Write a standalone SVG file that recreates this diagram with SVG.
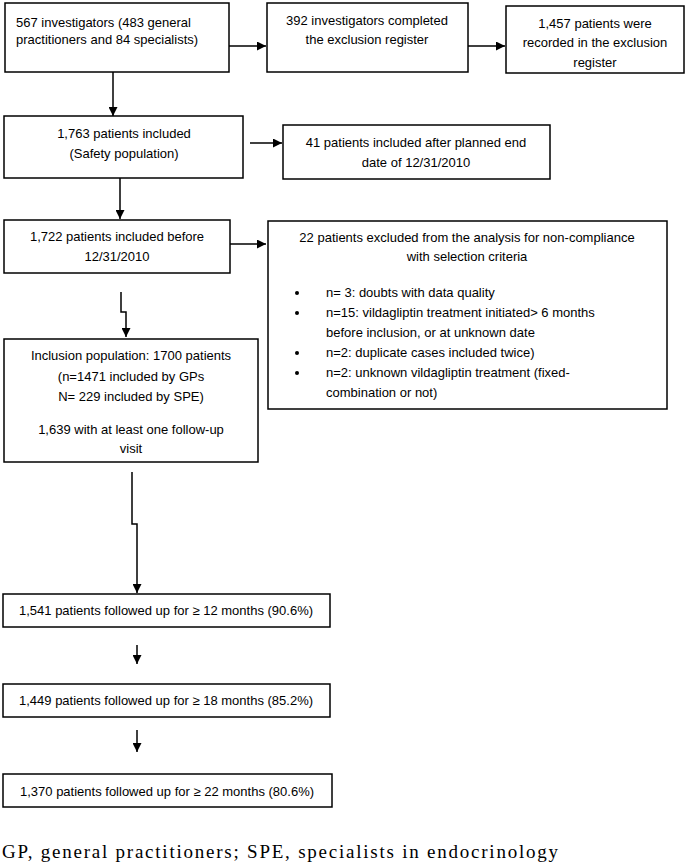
<svg xmlns="http://www.w3.org/2000/svg" width="685" height="868" viewBox="0 0 685 868">
<defs>
<marker id="ah" viewBox="0 0 10 10" refX="10" refY="5" markerWidth="9" markerHeight="9" markerUnits="userSpaceOnUse" orient="auto">
<path d="M0,0 L10,5 L0,10 Z" fill="#000"/>
</marker>
<style>
.box{fill:#fff;stroke:#000;stroke-width:1.5}
.t{font-family:"Liberation Sans",Arial,sans-serif;font-size:13px;fill:#000}
.c{text-anchor:middle}
.ln{fill:none;stroke:#000;stroke-width:1.5;marker-end:url(#ah)}
.cap{font-family:"Liberation Serif","Times New Roman",serif;font-size:19px;fill:#000}
</style>
</defs>
<rect width="685" height="868" fill="#fff"/>
<g id="connectors">
<path class="ln" d="M229,46 H266"/>
<path class="ln" d="M468,46 H505"/>
<path class="ln" d="M113,72 V116"/>
<path class="ln" d="M250,143 H282"/>
<path class="ln" d="M120,178 V219"/>
<path class="ln" d="M230,244 H266"/>
<path class="ln" d="M121,292 V312 H126 V337"/>
<path class="ln" d="M132,472 V524 H137 V593"/>
<path class="ln" d="M137,645 V664"/>
<path class="ln" d="M137,730 V752"/>
</g>
<g id="n1">
<rect class="box" x="5" y="3" width="224" height="69"/>
<text class="t" x="16" y="27">567 investigators (483 general</text>
<text class="t" x="16" y="44">practitioners and 84 specialists)</text>
</g>
<g id="n2">
<rect class="box" x="267" y="3" width="201" height="69"/>
<text class="t c" x="367" y="25">392 investigators completed</text>
<text class="t c" x="367" y="44">the exclusion register</text>
</g>
<g id="n3">
<rect class="box" x="506" y="6" width="178" height="67"/>
<text class="t c" x="595" y="28">1,457 patients were</text>
<text class="t c" x="595" y="47">recorded in the exclusion</text>
<text class="t c" x="595" y="67">register</text>
</g>
<g id="n4">
<rect class="box" x="4" y="116" width="239" height="62"/>
<text class="t c" x="124" y="138">1,763 patients included</text>
<text class="t c" x="124" y="158">(Safety population)</text>
</g>
<g id="n5">
<rect class="box" x="283" y="125" width="267" height="54"/>
<text class="t c" x="416" y="147">41 patients included after planned end</text>
<text class="t c" x="416" y="167">date of 12/31/2010</text>
</g>
<g id="n6">
<rect class="box" x="4" y="220" width="226" height="53"/>
<text class="t c" x="117" y="241">1,722 patients included before</text>
<text class="t c" x="117" y="261">12/31/2010</text>
</g>
<g id="n7">
<rect class="box" x="268" y="221" width="399" height="188"/>
<text class="t c" x="467" y="242">22 patients excluded from the analysis for non-compliance</text>
<text class="t c" x="467" y="261">with selection criteria</text>
<g fill="#000">
<circle cx="297" cy="293" r="2"/>
<circle cx="297" cy="313" r="2"/>
<circle cx="297" cy="353" r="2"/>
<circle cx="297" cy="373" r="2"/>
</g>
<text class="t" x="326" y="297">n= 3: doubts with data quality</text>
<text class="t" x="326" y="317">n=15: vildagliptin treatment initiated&gt; 6 months</text>
<text class="t" x="326" y="337">before inclusion, or at unknown date</text>
<text class="t" x="326" y="357">n=2: duplicate cases included twice)</text>
<text class="t" x="326" y="377">n=2: unknown vildagliptin treatment (fixed-</text>
<text class="t" x="326" y="397">combination or not)</text>
</g>
<g id="n8">
<rect class="box" x="4" y="339" width="254" height="123"/>
<text class="t c" x="131" y="360">Inclusion population: 1700 patients</text>
<text class="t c" x="131" y="381">(n=1471 included by GPs</text>
<text class="t c" x="131" y="401">N= 229 included by SPE)</text>
<text class="t c" x="131" y="434">1,639 with at least one follow-up</text>
<text class="t c" x="131" y="453">visit</text>
</g>
<g id="n9">
<rect class="box" x="3" y="594" width="327" height="33"/>
<text class="t c" x="166" y="615">1,541 patients followed up for ≥ 12 months (90.6%)</text>
</g>
<g id="n10">
<rect class="box" x="3" y="684" width="327" height="33"/>
<text class="t c" x="166" y="705">1,449 patients followed up for ≥ 18 months (85.2%)</text>
</g>
<g id="n11">
<rect class="box" x="3" y="774" width="329" height="33"/>
<text class="t c" x="167" y="796">1,370 patients followed up for ≥ 22 months (80.6%)</text>
</g>
<text class="cap" x="2" y="858" textLength="556" lengthAdjust="spacing">GP, general practitioners; SPE, specialists in endocrinology</text>
</svg>
